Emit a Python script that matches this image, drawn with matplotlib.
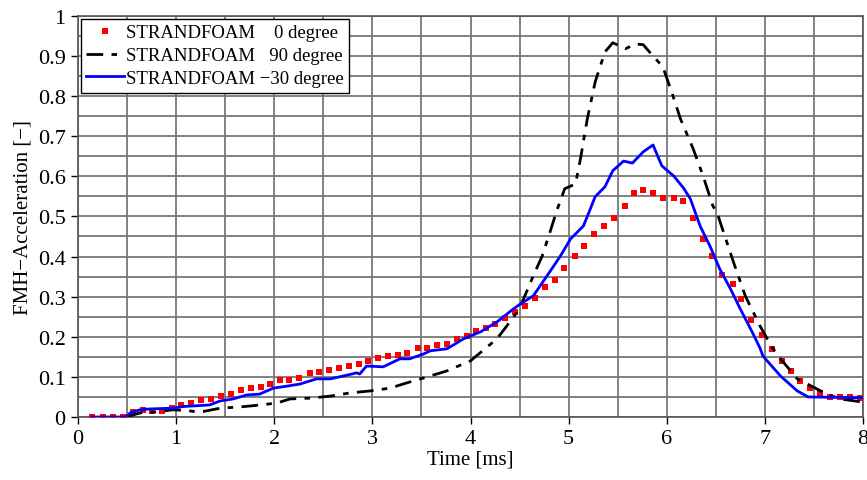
import matplotlib
matplotlib.use("Agg")
import matplotlib.pyplot as plt

# 0 degree (red dots)
t_red = [0.14, 0.25, 0.36, 0.46, 0.56, 0.66, 0.75, 0.86, 0.96, 1.05, 1.15, 1.25, 1.36, 1.46,
         1.56, 1.66, 1.76, 1.86, 1.96, 2.06, 2.15, 2.25, 2.36, 2.46, 2.56, 2.66, 2.76, 2.86,
         2.96, 3.06, 3.16, 3.26, 3.35, 3.46, 3.56, 3.66, 3.76, 3.86, 3.96, 4.06, 4.16, 4.25,
         4.35, 4.45, 4.56, 4.66, 4.76, 4.86, 4.95, 5.06, 5.16, 5.26, 5.36, 5.46, 5.57, 5.67,
         5.76, 5.86, 5.96, 6.07, 6.17, 6.27, 6.37, 6.46, 6.56, 6.67, 6.76, 6.86, 6.97, 7.07,
         7.17, 7.27, 7.36, 7.46, 7.56, 7.66, 7.77, 7.87, 7.97]
a_red = [0.0, 0.0, 0.0, 0.0, 0.012, 0.017, 0.015, 0.015, 0.022, 0.03, 0.035, 0.042, 0.045, 0.052,
         0.057, 0.067, 0.072, 0.075, 0.082, 0.092, 0.092, 0.097, 0.11, 0.112, 0.117, 0.122, 0.127, 0.132,
         0.14, 0.147, 0.152, 0.155, 0.16, 0.172, 0.172, 0.18, 0.182, 0.195, 0.202, 0.214, 0.222, 0.232,
         0.247, 0.262, 0.277, 0.297, 0.324, 0.342, 0.372, 0.401, 0.426, 0.456, 0.476, 0.496, 0.526, 0.559,
         0.566, 0.559, 0.546, 0.546, 0.538, 0.496, 0.444, 0.401, 0.354, 0.332, 0.294, 0.242, 0.204, 0.17,
         0.14, 0.115, 0.09, 0.072, 0.06, 0.05, 0.05, 0.05, 0.048]

# 90 degree (black dash-dot)
t_blk = [0.49, 0.63, 0.77, 0.97, 1.11, 1.24, 1.45, 1.65, 1.86, 2.03, 2.16, 2.37, 2.57, 2.77,
         2.98, 3.18, 3.35, 3.56, 3.76, 4.0, 4.27, 4.37, 4.47, 4.54, 4.64, 4.73, 4.81, 4.88, 4.96,
         5.07, 5.12, 5.19, 5.27, 5.37, 5.45, 5.58, 5.68, 5.76, 5.86, 5.96, 6.05, 6.14, 6.27,
         6.37, 6.47, 6.51, 6.68, 6.8, 6.95, 7.07, 7.16, 7.33, 7.53, 7.63, 7.77, 8.0]
a_blk = [0.0, 0.01, 0.012, 0.018, 0.016, 0.012, 0.022, 0.025, 0.03, 0.035, 0.045, 0.047, 0.052, 0.06,
         0.065, 0.072, 0.085, 0.1, 0.115, 0.14, 0.195, 0.227, 0.26, 0.294, 0.352, 0.401, 0.461, 0.515, 0.569,
         0.581, 0.643, 0.743, 0.835, 0.91, 0.933, 0.918, 0.93, 0.928, 0.9, 0.873, 0.81, 0.743, 0.668,
         0.601, 0.526, 0.511, 0.386, 0.302, 0.227, 0.175, 0.145, 0.095, 0.07, 0.057, 0.045, 0.037]

# -30 degree (blue solid)
t_blu = [0.14, 0.49, 0.53, 0.63, 0.73, 0.97, 1.07, 1.34, 1.45, 1.58, 1.72, 1.85, 1.99, 2.13,
         2.26, 2.43, 2.57, 2.70, 2.84, 2.87, 2.94, 3.11, 3.28, 3.38, 3.52, 3.59, 3.76, 3.93, 4.1,
         4.27, 4.44, 4.51, 4.64, 4.78, 4.91, 5.02, 5.15, 5.2, 5.27, 5.37, 5.45, 5.56, 5.65, 5.76,
         5.86, 5.95, 6.07, 6.17, 6.24, 6.34, 6.44, 6.54, 6.65, 6.75, 6.87, 6.95, 6.98, 7.16, 7.33,
         7.44, 8.0]
a_blu = [0.0, 0.0, 0.01, 0.018, 0.02, 0.022, 0.026, 0.03, 0.04, 0.045, 0.055, 0.057, 0.072, 0.077,
         0.082, 0.095, 0.095, 0.102, 0.11, 0.107, 0.127, 0.125, 0.145, 0.145, 0.157, 0.165, 0.17, 0.195, 0.212,
         0.237, 0.27, 0.282, 0.302, 0.352, 0.399, 0.444, 0.476, 0.506, 0.549, 0.574, 0.614, 0.638, 0.633, 0.661,
         0.678, 0.626, 0.601, 0.571, 0.544, 0.476, 0.426, 0.369, 0.319, 0.269, 0.212, 0.172, 0.152, 0.102, 0.065,
         0.05, 0.048]

labels = ["STRANDFOAM    0 degree", "STRANDFOAM   90 degree", "STRANDFOAM \u221230 degree"]

plt.rcParams['font.family'] = ['Liberation Serif', 'DejaVu Serif']
fig = plt.figure(figsize=(8.67, 4.81), dpi=100)
ax = fig.add_axes([0.09, 0.131, 0.9054, 0.834])

ax.plot(t_red, a_red, linestyle='none', marker='s', markersize=4.2, color='#ff0000',
        markeredgewidth=0, label=labels[0], zorder=3)
ax.plot(t_blk, a_blk, color='black', linewidth=2.0, dashes=(6, 3, 2, 3), label=labels[1], zorder=3)
ax.plot(t_blu, a_blu, color='#0000ff', linewidth=2.0, label=labels[2], zorder=3)

ax.set_xlim(0, 8)
ax.set_ylim(0, 1)
ax.set_xticks(range(0, 9))
ax.set_yticks([0, 0.1, 0.2, 0.3, 0.4, 0.5, 0.6, 0.7, 0.8, 0.9, 1])
ax.set_yticklabels(['0', '0.1', '0.2', '0.3', '0.4', '0.5', '0.6', '0.7', '0.8', '0.9', '1'])
ax.set_xticks([i * 0.5 for i in range(17)], minor=True)
ax.set_yticks([i * 0.05 for i in range(21)], minor=True)
ax.grid(True, which='both', color='#777777', linewidth=1.3)
ax.set_axisbelow(True)
ax.tick_params(which='major', direction='out', length=5, width=1, labelsize=16, pad=4)
ax.tick_params(which='minor', length=0)
for s in ax.spines.values():
    s.set_color('#555555')
    s.set_linewidth(1.2)

ax.set_xlabel('Time [ms]', fontsize=15, labelpad=1)
ax.set_ylabel('FMH\u2212Acceleration [\u2212]', fontsize=15, labelpad=4)

leg = ax.legend(loc='upper left', fontsize=13.5, frameon=True, fancybox=False,
                borderaxespad=0.15, handlelength=2.0, handletextpad=0.1,
                borderpad=0.3, labelspacing=0.3, markerscale=1.0)
leg.get_frame().set_edgecolor('black')
leg.get_frame().set_linewidth(1.0)
leg.get_frame().set_alpha(1)

fig.savefig('out.png', dpi=100)
